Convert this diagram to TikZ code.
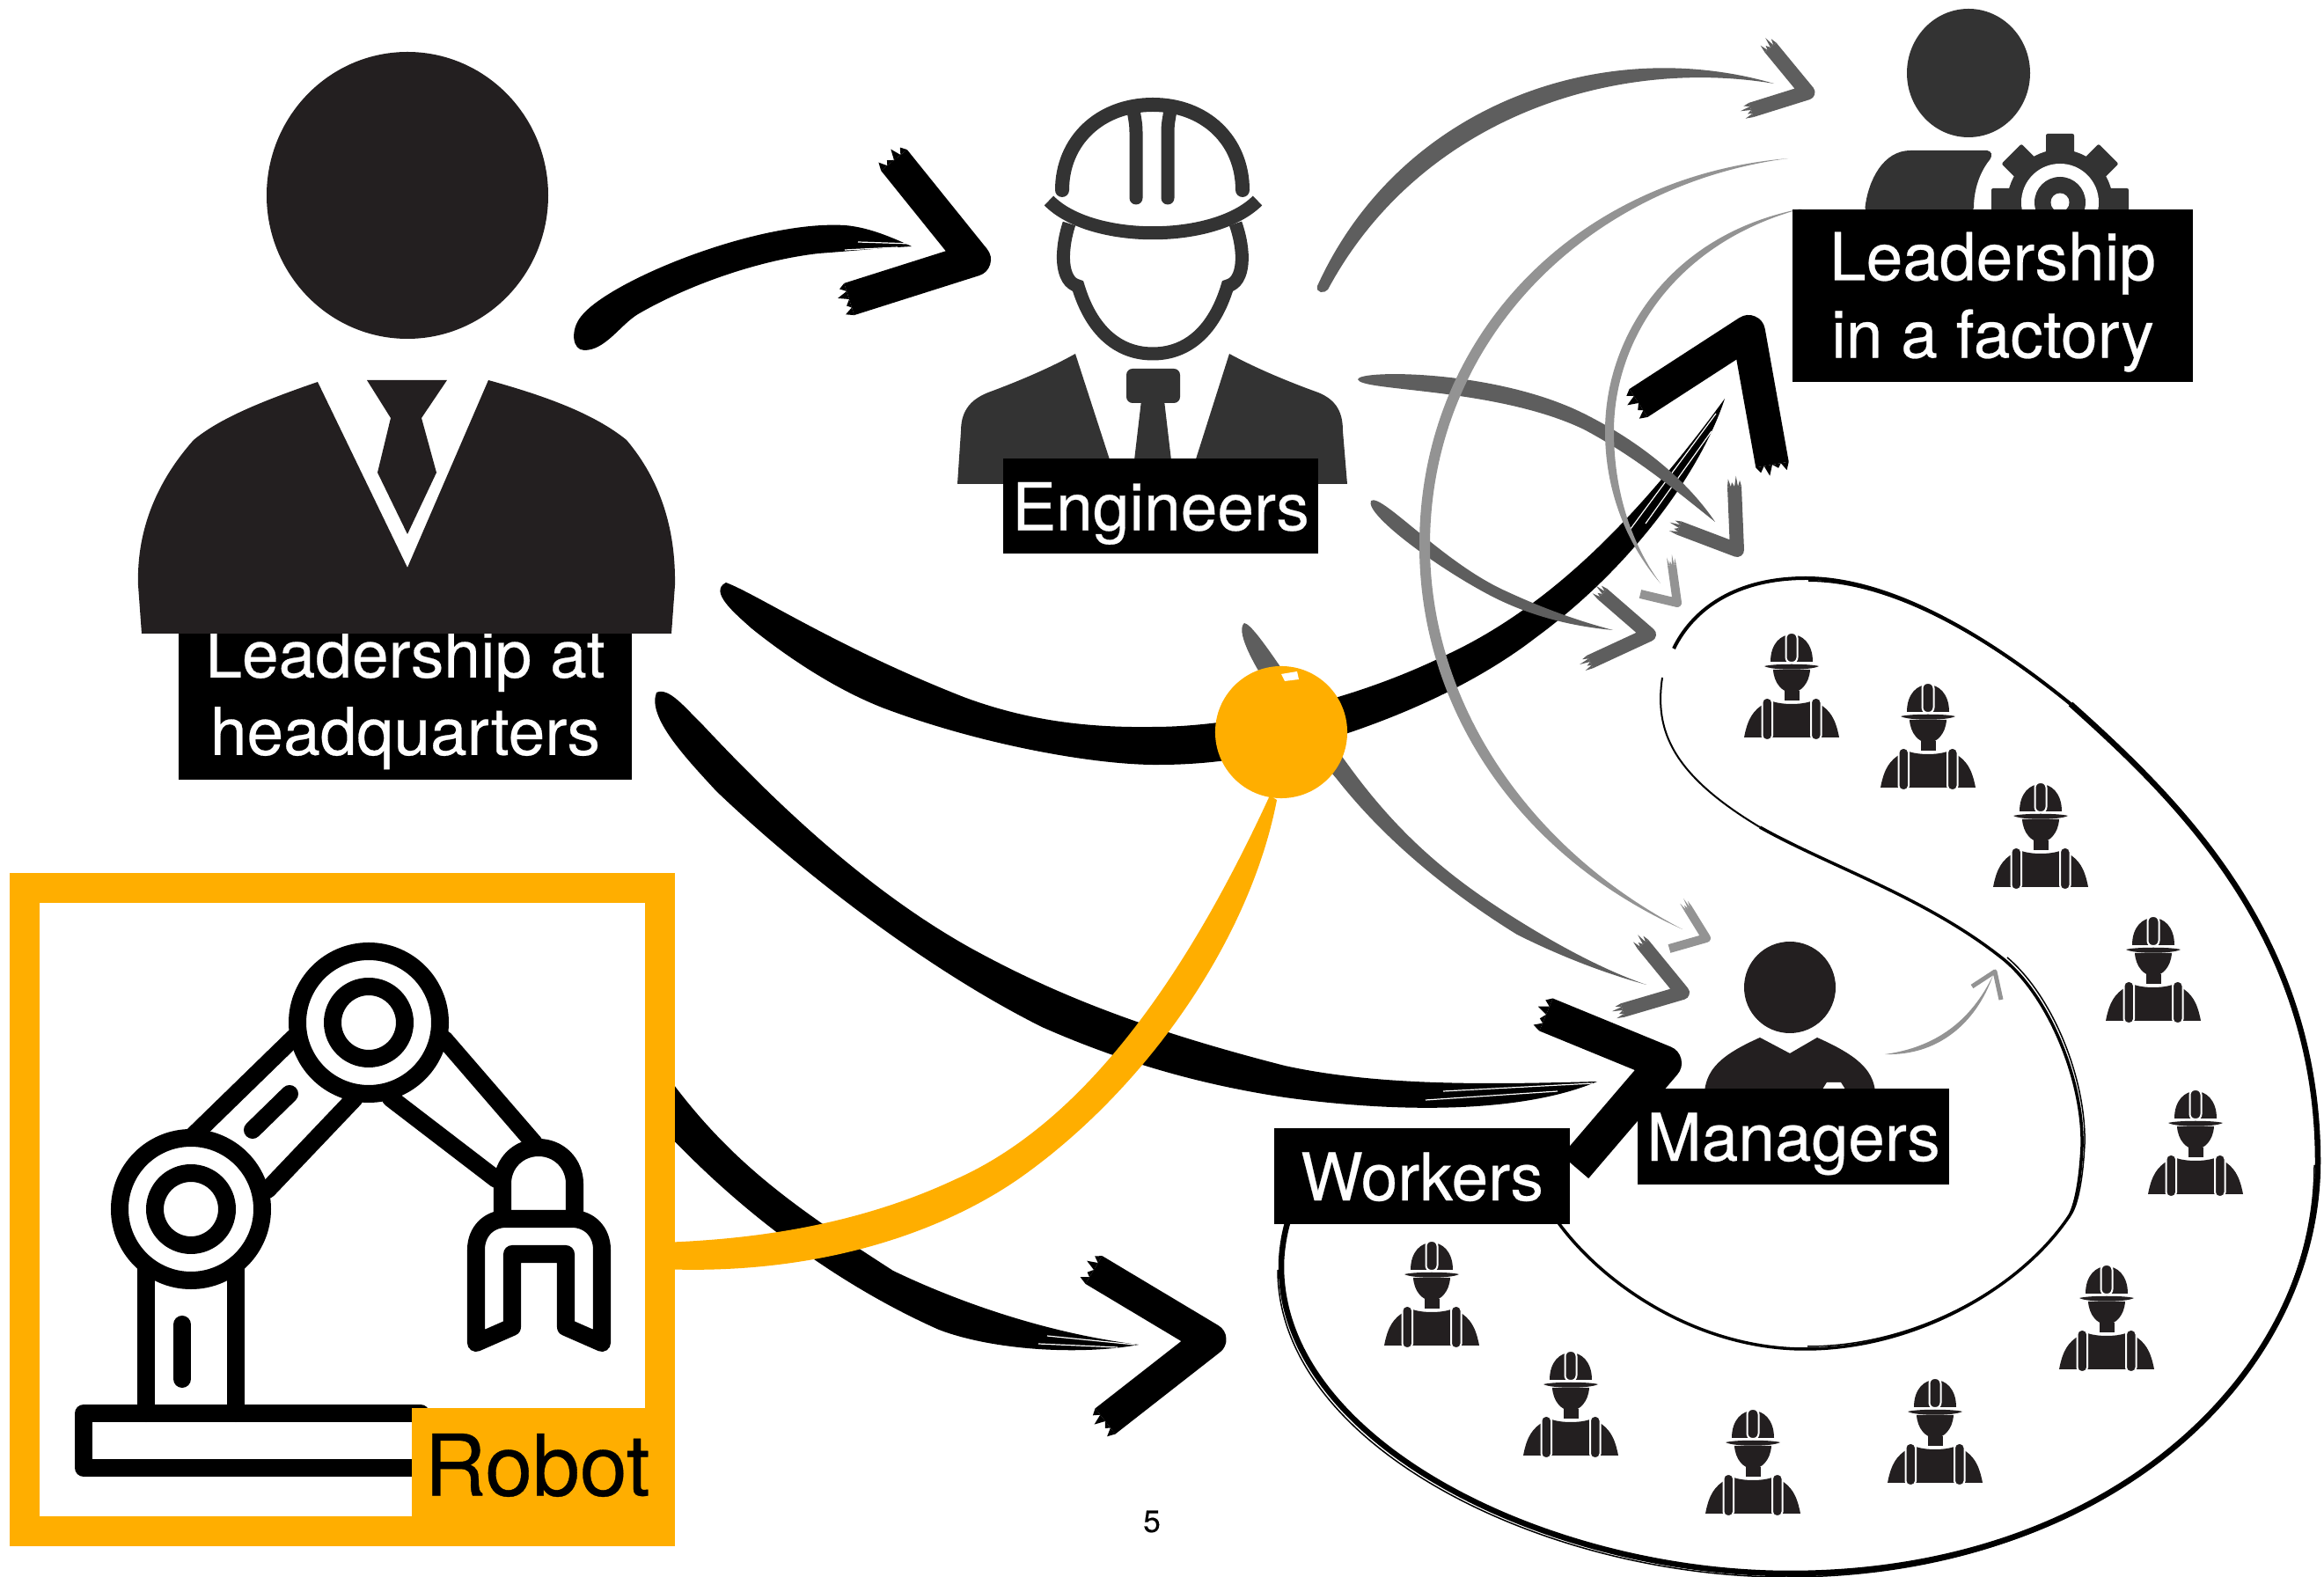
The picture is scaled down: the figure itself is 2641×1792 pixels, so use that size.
\documentclass[tikz,border=0pt]{standalone}
\usepackage{fontspec}
\setmainfont[FakeBold=0.35]{TeX Gyre Heros}
\usetikzlibrary{calc}
\definecolor{robotorange}{HTML}{FFAE00}
\definecolor{bossgray}{HTML}{231F20}
\definecolor{icongray}{HTML}{333333}
\definecolor{darkstroke}{HTML}{5E5E5E}
\definecolor{lightstroke}{HTML}{939393}
% colour, half width, arm end, apex
\newcommand{\fray}[4]{%
	\path coordinate (fP) at ($(#3)!#2!90:(#4)$) coordinate (fQ) at ($(#3)!#2!-90:(#4)$);
	\fill[#1] (fP) -- ($($(fP)!.14!(fQ)$)!-0.07cm!(#4)$) -- ($(fP)!.25!(fQ)$) -- ($($(fP)!.38!(fQ)$)!-0.12cm!(#4)$) -- ($(fP)!.5!(fQ)$) -- ($($(fP)!.66!(fQ)$)!-0.05cm!(#4)$) -- ($(fP)!.76!(fQ)$) -- ($($(fP)!.88!(fQ)$)!-0.09cm!(#4)$) -- (fQ) -- cycle;}
\newcommand{\chev}[5]{\draw[#1,line width=#2,line join=round] (#3) -- (#4) -- (#5);}
\tikzset{
	lab/.style={fill=black,text=white,inner sep=0pt,align=center,font=\fontsize{21.3}{25.04}\selectfont},
	oneline/.style={text height=0.6cm,text depth=0.05cm},
	swirl/.style={draw=black,line join=round},
	bristle/.style={draw=white,line width=0.012cm},
	armline/.style={draw=black,line width=0.2cm,line cap=round,line join=round},
	worker/.pic={
		\fill[bossgray] (-24,33) .. controls (-24,12) and (-12,2) .. (0,2) .. controls (12,2) and (24,12) .. (24,33) -- cycle;
		\draw[white,fill=bossgray,line width=0.02cm,rounded corners=0.06cm] (-6.5,0) rectangle (6.5,34);
		\fill[bossgray] (-31,38) .. controls (-20,35) and (20,35) .. (31,38) .. controls (22,43) and (-22,43) .. (-31,38) -- cycle;
		\fill[bossgray] (-21,42) .. controls (-20,58) and (-10,68) .. (0,68) .. controls (10,68) and (20,58) .. (21,42) -- cycle;
		\fill[bossgray] (-8.5,66) rectangle (8.5,77);
		\fill[bossgray] (-54,119) .. controls (-50,98) and (-44,88) .. (-30,80) -- (-22,78) .. controls (-10,82) and (10,82) .. (22,78) -- (30,80) .. controls (44,88) and (50,98) .. (54,119) -- cycle;
		\draw[white,fill=bossgray,line width=0.02cm,rounded corners=0.05cm] (-33.5,74) rectangle (-22,122);
		\draw[white,fill=bossgray,line width=0.02cm,rounded corners=0.05cm] (22,74) rectangle (33.5,122);
	}
}

\begin{document}
\begin{tikzpicture}[x=0.01cm,y=-0.01cm]
	\useasboundingbox (0,0) rectangle (2641,1792);

	% points the strokes run between
	\coordinate (hqEngTail) at (664,398);
	\coordinate (hqEngTip) at (1036,280);
	\coordinate (engArmA) at (1016,182);
	\coordinate (engApex) at (1107,295);
	\coordinate (engArmB) at (965,340);
	\coordinate (hqFacTail) at (825,662);
	\coordinate (hqFacTip) at (1960,453);
	\coordinate (facArmA) at (1862,458);
	\coordinate (facApex) at (1987,377);
	\coordinate (facArmB) at (2014,528);
	\coordinate (hqMgrTail) at (746,787);
	\coordinate (hqMgrTip) at (1815,1229);
	\coordinate (mgrArmA) at (1757,1153);
	\coordinate (mgrApex) at (1891,1208);
	\coordinate (mgrArmB) at (1790,1326);
	\coordinate (robWrkTail) at (760,1225);
	\coordinate (robWrkTip) at (1294,1528);
	\coordinate (wrkArmA) at (1243,1443);
	\coordinate (wrkApex) at (1375,1522);
	\coordinate (wrkArmB) at (1256,1615);
	\coordinate (robHubTail) at (750,1412);
	\coordinate (robHubTip) at (1443,904);
	\coordinate (engFacTail) at (1497,325);
	\coordinate (engFacTip) at (2016,95);
	\coordinate (fa1) at (2012,54);
	\coordinate (fa2) at (2054,105);
	\coordinate (fa3) at (1990,125);
	\coordinate (ea1) at (1543,431);
	\coordinate (ea2) at (1949,593);
	\coordinate (eb1) at (1971,553);
	\coordinate (eb2) at (1974,625);
	\coordinate (eb3) at (1908,600);
	\coordinate (ec1) at (1558,569);
	\coordinate (ec2) at (1833,716);
	\coordinate (ed1) at (1821,675);
	\coordinate (ed2) at (1874,721);
	\coordinate (ed3) at (1807,752);
	\coordinate (hubTail) at (1414,708);
	\coordinate (hubTip) at (1871,1119);
	\coordinate (ha1) at (1867,1073);
	\coordinate (ha2) at (1912,1128);
	\coordinate (ha3) at (1844,1148);
	\coordinate (factA) at (2032,180);
	\coordinate (factB) at (1912,1056);
	\coordinate (fb1) at (1918,1032);
	\coordinate (fb2) at (1939,1066);
	\coordinate (fb3) at (1897,1078);
	\coordinate (factC) at (2048,237);
	\coordinate (factD) at (1887,663);
	\coordinate (fc1) at (1900,642);
	\coordinate (fc2) at (1906,685);
	\coordinate (fc3) at (1864,675);
	\coordinate (mgrOutA) at (2142,1198);
	\coordinate (mgrOutB) at (2265,1108);
	\coordinate (ma1) at (2241,1121);
	\coordinate (ma2) at (2267,1104);
	\coordinate (ma3) at (2274,1136);

	% swirl round the workers
	\draw[swirl,line width=0.04cm] (1902,737) .. controls (1925,690) and (1975,657) .. (2052,657) .. controls (2130,657) and (2230,700) .. (2353,800);
	\draw[swirl,line width=0.065cm] (2353,800) .. controls (2470,905) and (2634,1060) .. (2634,1320) .. controls (2634,1560) and (2400,1788) .. (2034,1788) .. controls (1760,1788) and (1456,1640) .. (1456,1439) .. controls (1456,1420) and (1460,1400) .. (1463,1390);
	\draw[swirl,line width=0.02cm,xshift=0.03cm,yshift=-0.03cm] (2052,657) .. controls (2130,657) and (2230,700) .. (2353,800);
	\draw[swirl,line width=0.015cm,xshift=-0.04cm,yshift=-0.04cm] (2634,1320) .. controls (2634,1560) and (2400,1788) .. (2034,1788) .. controls (1760,1788) and (1456,1640) .. (1456,1439);
	\draw[swirl,line width=0.02cm] (1889,770) .. controls (1880,830) and (1900,880) .. (2000,940);
	\draw[swirl,line width=0.035cm] (2000,940) .. controls (2080,985) and (2190,1020) .. (2278,1091) .. controls (2330,1135) and (2368,1230) .. (2366,1303) .. controls (2364,1345) and (2358,1370) .. (2352,1381) .. controls (2300,1460) and (2180,1533) .. (2051,1533) .. controls (1930,1533) and (1820,1460) .. (1767,1384);
	\draw[swirl,line width=0.015cm,xshift=0.03cm,yshift=0.03cm] (2278,1091) .. controls (2330,1135) and (2368,1230) .. (2366,1303) .. controls (2364,1345) and (2358,1370) .. (2352,1381) .. controls (2300,1460) and (2180,1533) .. (2051,1533);

	% workers
	\foreach \wx/\wy in {2036/719,2191/776,2319/889,2447/1041,2495/1238,2394/1437,2199/1566,1992/1601,1785/1535,1627/1410}
		\pic at (\wx,\wy) {worker};

	% black strokes
	\fill[black] (hqEngTail) .. controls (650,398) and (648,375) .. (660,360) .. controls (690,320) and (860,250) .. (960,256) .. controls (985,258) and (1010,268) .. (hqEngTip) .. controls (1000,282) and (970,285) .. (930,288) .. controls (860,296) and (780,325) .. (725,357) .. controls (705,369) and (688,398) .. (hqEngTail) -- cycle;
	\draw[bristle] (975,275) -- (1036,277);
	\draw[bristle] (960,284) -- (1020,281);
	\chev{black}{0.38cm}{engArmA}{engApex}{engArmB}
	\fray{black}{0.19cm}{engArmA}{engApex}
	\fray{black}{0.19cm}{engArmB}{engApex}

	\fill[black] (hqMgrTail) .. controls (760,780) and (780,806) .. (796,821) .. controls (870,900) and (980,1010) .. (1108,1080) .. controls (1200,1130) and (1300,1170) .. (1460,1211) .. controls (1570,1235) and (1700,1232) .. (hqMgrTip) .. controls (1730,1265) and (1590,1265) .. (1460,1247) .. controls (1360,1232) and (1270,1205) .. (1184,1167) .. controls (1060,1105) and (920,1000) .. (814,899) .. controls (780,862) and (735,815) .. (hqMgrTail) -- cycle;
	\draw[bristle] (1640,1240) -- (1810,1231);
	\draw[bristle] (1620,1250) -- (1770,1240);
	\chev{black}{0.4cm}{mgrArmA}{mgrApex}{mgrArmB}
	\fray{black}{0.2cm}{mgrArmA}{mgrApex}

	\fill[black] (robWrkTail) .. controls (830,1320) and (900,1370) .. (1015,1444) .. controls (1090,1480) and (1190,1515) .. (robWrkTip) .. controls (1230,1540) and (1130,1535) .. (1067,1511) .. controls (970,1468) and (860,1395) .. (760,1290) -- cycle;
	\draw[bristle] (1190,1518) -- (1290,1528);
	\draw[bristle] (1180,1527) -- (1270,1531);
	\chev{black}{0.37cm}{wrkArmA}{wrkApex}{wrkArmB}
	\fray{black}{0.185cm}{wrkArmA}{wrkApex}
	\fray{black}{0.185cm}{wrkArmB}{wrkApex}

	\fill[black] (hqFacTail) .. controls (860,675) and (950,735) .. (1095,792) .. controls (1170,820) and (1240,827) .. (1310,826) .. controls (1400,826) and (1530,800) .. (1644,744) .. controls (1760,690) and (1860,590) .. (hqFacTip) .. controls (1935,530) and (1860,640) .. (1746,724) .. controls (1680,775) and (1600,810) .. (1532,833) .. controls (1460,855) and (1390,869) .. (1318,869) .. controls (1250,870) and (1120,848) .. (1005,805) .. controls (940,780) and (880,735) .. (854,714) .. controls (835,697) and (805,672) .. (hqFacTail) -- cycle;
	\draw[bristle] (1850,605) -- (1950,470);
	\draw[bristle] (1870,595) -- (1945,490);
	\chev{black}{0.38cm}{facArmA}{facApex}{facArmB}
	\fray{black}{0.19cm}{facArmA}{facApex}
	\fray{black}{0.19cm}{facArmB}{facApex}

	% dark gray strokes
	\fill[darkstroke] (hubTail) .. controls (1428,710) and (1480,800) .. (1540,880) .. controls (1600,960) and (1660,1005) .. (1724,1045) .. controls (1780,1080) and (1830,1105) .. (hubTip) .. controls (1820,1105) and (1770,1085) .. (1724,1062) .. controls (1640,1010) and (1570,950) .. (1519,885) .. controls (1480,840) and (1395,725) .. (hubTail) -- cycle;
	\chev{darkstroke}{0.16cm}{ha1}{ha2}{ha3}
	\fray{darkstroke}{0.08cm}{ha1}{ha2}
	\fray{darkstroke}{0.08cm}{ha3}{ha2}
	\fill[darkstroke] (engFacTail) .. controls (1590,120) and (1820,38) .. (engFacTip) .. controls (1830,64) and (1612,137) .. (1509,329) .. controls (1505,334) and (1495,333) .. (engFacTail) -- cycle;
	\chev{darkstroke}{0.17cm}{fa1}{fa2}{fa3}
	\fray{darkstroke}{0.085cm}{fa1}{fa2}
	\fray{darkstroke}{0.085cm}{fa3}{fa2}
	\fill[darkstroke] (ea1) .. controls (1545,420) and (1700,420) .. (1800,470) .. controls (1870,505) and (1920,550) .. (ea2) .. controls (1905,558) and (1860,520) .. (1800,488) .. controls (1700,440) and (1545,445) .. (ea1) -- cycle;
	\chev{darkstroke}{0.16cm}{eb1}{eb2}{eb3}
	\fray{darkstroke}{0.08cm}{eb1}{eb2}
	\fray{darkstroke}{0.08cm}{eb3}{eb2}
	\fill[darkstroke] (ec1) .. controls (1570,560) and (1640,640) .. (1712,672) .. controls (1755,692) and (1795,706) .. (ec2) .. controls (1790,712) and (1745,702) .. (1700,680) .. controls (1640,650) and (1550,585) .. (ec1) -- cycle;
	\chev{darkstroke}{0.16cm}{ed1}{ed2}{ed3}
	\fray{darkstroke}{0.08cm}{ed1}{ed2}
	\fray{darkstroke}{0.08cm}{ed3}{ed2}

	% light gray strokes
	\fill[lightstroke] (factA) .. controls (1795,200) and (1613,378) .. (1613,620) .. controls (1613,805) and (1725,972) .. (factB) .. controls (1738,965) and (1625,800) .. (1625,620) .. controls (1625,385) and (1805,210) .. (factA) -- cycle;
	\chev{lightstroke}{0.1cm}{fb1}{fb2}{fb3}
	\fray{lightstroke}{0.05cm}{fb1}{fb2}
	\fill[lightstroke] (factC) .. controls (1900,265) and (1824,380) .. (1824,490) .. controls (1824,560) and (1850,620) .. (factD) .. controls (1855,620) and (1834,560) .. (1834,490) .. controls (1834,385) and (1905,275) .. (factC) -- cycle;
	\chev{lightstroke}{0.1cm}{fc1}{fc2}{fc3}
	\fray{lightstroke}{0.05cm}{fc1}{fc2}
	\fill[lightstroke] (mgrOutA) .. controls (2200,1190) and (2240,1160) .. (mgrOutB) .. controls (2245,1165) and (2200,1200) .. (mgrOutA) -- cycle;
	\chev{lightstroke}{0.05cm}{ma1}{ma2}{ma3}

	% robot into the hub
	\fill[robotorange] (robHubTail) .. controls (880,1408) and (990,1385) .. (1086,1340) .. controls (1210,1285) and (1330,1150) .. (robHubTip) -- (1451,909) .. controls (1420,1070) and (1300,1240) .. (1157,1340) .. controls (1070,1400) and (930,1450) .. (750,1442) -- cycle;
	\node[circle,fill=robotorange,minimum size=1.5cm,inner sep=0pt] (hub) at (1456,832) {};
	\fill[white] (1456,766) -- (1474,763) -- (1476,772) -- (1460,774) -- cycle;

	% labels first, the big figure sits over its own label
	\node[lab,minimum width=5.15cm,minimum height=1.65cm] (hq) at (460.5,800.5) {Leadership at\\headquarters\rule[-0.28cm]{0pt}{0.28cm}};

	% big leader
	\fill[bossgray] (463,222) ellipse[x radius=160,y radius=163];
	\fill[bossgray] (361,434) .. controls (300,455) and (250,475) .. (220,500) .. controls (180,545) and (155,600) .. (157,665) -- (161,720) -- (763,720) -- (767,665) .. controls (768,600) and (750,545) .. (712,500) .. controls (675,470) and (620,450) .. (555,432) -- (463,645) -- cycle;
	\fill[bossgray] (417,432) -- (508,432) -- (479,475) -- (496,537) -- (463,607) -- (429,537) -- (444,475) -- cycle;

	% engineer
	\draw[draw=icongray,line width=0.16cm,line cap=round] (1207,216) .. controls (1207,160) and (1250,119) .. (1310,119) .. controls (1370,119) and (1412,160) .. (1412,216);
	\draw[draw=icongray,line width=0.15cm,line cap=round] (1291,225) -- (1291,150) .. controls (1291,137) and (1288,130) .. (1288,122);
	\draw[draw=icongray,line width=0.15cm,line cap=round] (1327,225) -- (1327,150) .. controls (1327,137) and (1330,130) .. (1330,122);
	\draw[draw=icongray,line width=0.15cm] (1192,228) .. controls (1240,277) and (1380,277) .. (1429,228);
	\draw[draw=icongray,line width=0.15cm] (1215,254) .. controls (1205,285) and (1205,320) .. (1225,325) .. controls (1240,375) and (1270,402) .. (1310,402) .. controls (1350,402) and (1380,375) .. (1395,325) .. controls (1415,320) and (1415,285) .. (1404,254);
	\fill[icongray] (1222,402) .. controls (1190,420) and (1150,436) .. (1123,446) .. controls (1100,455) and (1092,470) .. (1092,490) -- (1088,550) -- (1270,550) -- cycle;
	\fill[icongray] (1397,402) .. controls (1430,420) and (1470,436) .. (1498,446) .. controls (1520,455) and (1526,470) .. (1526,490) -- (1531,550) -- (1350,550) -- cycle;
	\fill[icongray,rounded corners=0.07cm] (1280,419) rectangle (1341,458);
	\fill[icongray] (1297,455) -- (1287,540) -- (1333,540) -- (1323,455) -- cycle;

	% factory leader with gear
	\fill[icongray] (2237,83) ellipse[x radius=70,y radius=73];
	\fill[icongray,rounded corners=0.04cm] (2119,240) .. controls (2123,205) and (2140,171) .. (2175,171) -- (2262,171) -- (2264,178) .. controls (2250,195) and (2243,215) .. (2243,240) -- cycle;
	\foreach \a in {0,45,...,315}
		\fill[icongray,shift={(2341,230)},rotate=\a,rounded corners=0.02cm] (-16,-78) rectangle (16,0);
	\fill[icongray] (2341,230) circle[radius=60];
	\fill[white] (2341,230) circle[radius=44];
	\fill[icongray] (2341,230) circle[radius=29];
	\fill[white] (2341,230) circle[radius=10.5];

	% manager
	\fill[bossgray] (2034,1122) ellipse[x radius=52,y radius=52];
	\fill[bossgray] (1937,1240) .. controls (1940,1215) and (1955,1199) .. (2000,1179) -- (2034,1197) -- (2065,1179) .. controls (2110,1199) and (2128,1215) .. (2131,1240) -- cycle;
	\fill[white] (2076,1230) -- (2092,1230) -- (2097,1238) -- (2071,1238) -- cycle;

	% labels
	\node[lab,oneline,minimum width=3.585cm,minimum height=1.08cm] (eng) at (1319,575) {Engineers};
	\node[lab,minimum width=4.55cm,minimum height=1.96cm] (fac) at (2264.5,336) {\rule{0pt}{0.69cm}Leadership\\in a factory};
	\node[lab,oneline,minimum width=3.54cm,minimum height=1.09cm] (mgr) at (2038,1291.5) {Managers};
	\node[lab,oneline,minimum width=3.36cm,minimum height=1.09cm] (wrk) at (1616,1336.5) {Workers};

	% robot arm
	\draw[armline] (95,1606) rectangle (478,1668);
	\draw[armline] (166,1442) -- (166,1606);
	\draw[armline] (268,1442) -- (268,1606);
	\draw[armline] (207,1505) -- (207,1567);
	\draw[armline] (217,1374) circle[radius=81];
	\draw[armline] (217,1374) circle[radius=41];
	\draw[armline] (419,1162) circle[radius=81];
	\draw[armline] (419,1162) circle[radius=41];
	\draw[armline] (219,1291) -- (334,1179);
	\draw[armline] (304,1352) -- (403,1248);
	\draw[armline] (287,1284) -- (329,1243);
	\draw[armline] (505,1181) -- (607,1299);
	\draw[armline] (444,1248) -- (564,1340);
	\draw[armline] (571,1383) -- (571,1345) .. controls (571,1322) and (589,1304) .. (612,1304) .. controls (635,1304) and (653,1322) .. (653,1345) -- (653,1383);
	\draw[armline] (541,1526) -- (541,1420) .. controls (541,1400) and (555,1385) .. (575,1385) -- (650,1385) .. controls (670,1385) and (684,1400) .. (684,1420) -- (684,1526) -- (643,1508) -- (643,1425) -- (582,1425) -- (582,1508) -- cycle;

	% robot frame and its label
	\node[draw=robotorange,line width=0.34cm,minimum width=7.22cm,minimum height=7.31cm,inner sep=0pt] (rob) at (389,1374.5) {};
	\node[fill=robotorange,text=black,inner sep=0pt,font=\fontsize{27.5}{30}\selectfont,text height=0.63cm,text depth=0.21cm,minimum width=2.99cm,minimum height=1.57cm] (roblab) at (617.5,1678.5) {Robot\hspace{0.14cm}\null};

	% page number
	\node[font=\fontsize{10}{12}\selectfont,inner sep=0pt] (pageno) at (1309,1729) {5};
\end{tikzpicture}
\end{document}
